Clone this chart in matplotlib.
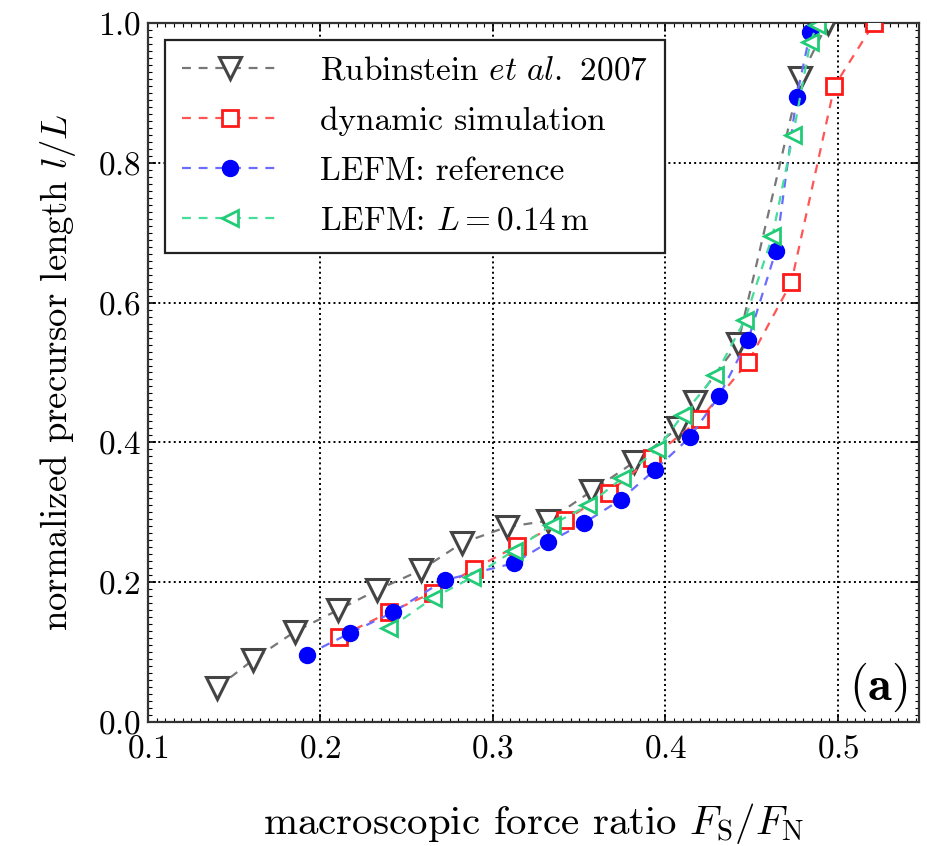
import matplotlib
matplotlib.use("Agg")
import matplotlib.pyplot as plt
from matplotlib.ticker import MultipleLocator

plt.rcParams["font.family"] = "serif"
plt.rcParams["font.serif"] = ["cmr10", "DejaVu Serif"]
plt.rcParams["mathtext.fontset"] = "cm"
plt.rcParams["axes.formatter.use_mathtext"] = True

# Rubinstein et al. 2007
rub_x = [0.140, 0.161, 0.185, 0.210, 0.233, 0.258, 0.282, 0.308, 0.332,
         0.357, 0.382, 0.407, 0.417, 0.442, 0.478, 0.494]
rub_y = [0.049, 0.089, 0.129, 0.160, 0.189, 0.217, 0.256, 0.279, 0.288,
         0.330, 0.372, 0.420, 0.458, 0.541, 0.921, 1.000]

# dynamic simulation
dyn_x = [0.211, 0.240, 0.265, 0.289, 0.314, 0.342, 0.367, 0.392, 0.420,
         0.448, 0.473, 0.498, 0.521]
dyn_y = [0.122, 0.157, 0.185, 0.219, 0.252, 0.289, 0.328, 0.378, 0.433,
         0.515, 0.629, 0.910, 1.000]

# LEFM: reference
ref_x = [0.192, 0.217, 0.242, 0.272, 0.312, 0.332, 0.353, 0.374, 0.394,
         0.414, 0.431, 0.448, 0.464, 0.476, 0.484]
ref_y = [0.096, 0.127, 0.157, 0.203, 0.227, 0.257, 0.285, 0.318, 0.361,
         0.407, 0.466, 0.547, 0.674, 0.894, 0.987]

# LEFM: L = 0.14 m
l14_x = [0.240, 0.265, 0.288, 0.312, 0.334, 0.355, 0.375, 0.395, 0.410,
         0.429, 0.446, 0.462, 0.474, 0.484, 0.488]
l14_y = [0.134, 0.177, 0.207, 0.245, 0.282, 0.310, 0.349, 0.390, 0.439,
         0.496, 0.575, 0.695, 0.840, 0.973, 0.997]

fig = plt.figure(figsize=(9.28, 8.46), dpi=100)
ax = fig.add_axes([0.1595, 0.1466, 0.8308, 0.8262])

dash = (4, 3.5)
ax.plot(rub_x, rub_y, linestyle="--", dashes=dash, color="#777777", lw=1.6,
        marker="v", ms=16, mfc="white", mec="#444444", mew=2.2,
        label=r"Rubinstein $\mathit{et\ al.}$ 2007", zorder=3)
ax.plot(dyn_x, dyn_y, linestyle="--", dashes=dash, color="#ff5555", lw=1.6,
        marker="s", ms=12, mfc="white", mec="#ff1a1a", mew=2.0,
        label="dynamic simulation", zorder=4)
ax.plot(ref_x, ref_y, linestyle="--", dashes=dash, color="#6b6bff", lw=1.6,
        marker="o", ms=11.5, mfc="#0000ff", mec="#0000ff", mew=1.0,
        label="LEFM: reference", zorder=5)
ax.plot(l14_x, l14_y, linestyle="--", dashes=dash, color="#44dd99", lw=1.6,
        marker="<", ms=11, mfc="white", mec="#22cc77", mew=2.0,
        label=r"LEFM: $L = 0.14\,\mathrm{m}$", zorder=6)

ax.set_xlim(0.1, 0.547)
ax.set_ylim(0.0, 1.0)
ax.xaxis.set_major_locator(MultipleLocator(0.1))
ax.yaxis.set_major_locator(MultipleLocator(0.2))
ax.xaxis.set_minor_locator(MultipleLocator(0.005))
ax.yaxis.set_minor_locator(MultipleLocator(0.01))
ax.tick_params(which="both", direction="in", top=True, right=True,
               labelsize=24)
ax.tick_params(axis="x", pad=9)
ax.tick_params(axis="y", pad=5)
ax.tick_params(which="major", length=6, width=1.2)
ax.tick_params(which="minor", length=3, width=0.8)
ax.grid(True, which="major", linestyle=":", color="black", lw=1.4)
for s in ax.spines.values():
    s.set_linewidth(1.6)
    s.set_color("#333333")

ax.set_xlabel(r"macroscopic force ratio $F_\mathrm{S}/F_\mathrm{N}$",
              fontsize=29.5, labelpad=27)
ax.set_ylabel(r"normalized precursor length $l/L$", fontsize=26.5, labelpad=14)

ax.text(0.985, 0.012, r"$\mathbf{(a)}$", transform=ax.transAxes,
        fontsize=35, ha="right", va="bottom")

leg = ax.legend(loc="upper left", fontsize=24, handlelength=2.9,
                borderpad=0.5, labelspacing=0.62, handletextpad=1.25,
                borderaxespad=0, fancybox=False, framealpha=1,
                edgecolor="#222222", bbox_to_anchor=(0.022, 0.976))
leg.get_frame().set_linewidth(1.6)

fig.savefig("out.png", dpi=100)
